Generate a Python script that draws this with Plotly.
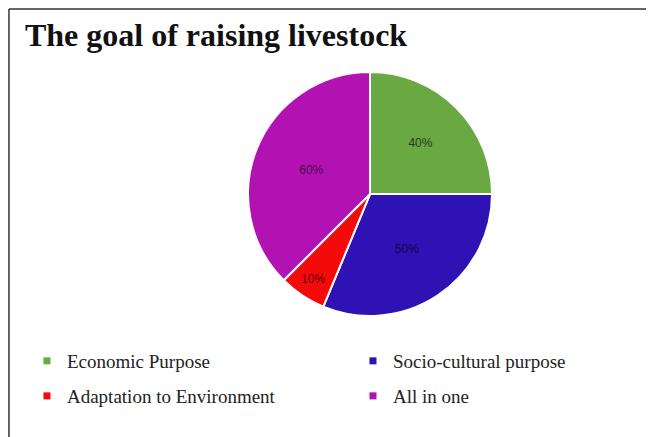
import plotly.graph_objects as go

categories = ["Economic Purpose", "Socio-cultural purpose", "Adaptation to Environment", "All in one"]
values = [40, 50, 10, 60]
labels_text = ["40%", "50%", "10%", "60%"]
colors = ["#6aa842", "#2e12b4", "#f50a0a", "#b312b3"]
text_colors = ["#1f3d12", "#120640", "#5a0000", "#4a064a"]

# legend entry placement (paper coords): two columns x two rows
legend_ids = ["legend", "legend2", "legend3", "legend4"]
legend_x = [0.029, 0.5275, 0.029, 0.5275]
legend_y = [0.1922, 0.1922, 0.1121, 0.1121]

fig = go.Figure(go.Pie(
    labels=categories,
    values=values,
    text=labels_text,
    textinfo="text",
    textposition="inside",
    insidetextorientation="horizontal",
    sort=False,
    direction="clockwise",
    rotation=0,
    marker=dict(colors=colors, line=dict(color="white", width=2)),
    textfont=dict(family="Liberation Sans, Arial", size=12, color=text_colors),
    domain=dict(x=[0.3670, 0.7401], y=[0.2952, 0.8535]),
    hoverinfo="label+value",
    showlegend=False,
))

for cat, col, lg in zip(categories, colors, legend_ids):
    fig.add_trace(go.Scatter(
        x=[None], y=[None], mode="markers", name=cat, legend=lg,
        marker=dict(symbol="square", size=7, color=col),
        showlegend=True, hoverinfo="skip",
    ))

legend_common = dict(
    orientation="h", xanchor="left", yanchor="middle",
    font=dict(family="Liberation Serif, Times New Roman", size=19, color="#222"),
    itemclick=False, itemdoubleclick=False, bgcolor="rgba(0,0,0,0)",
)
legend_layout = {lg: dict(x=lx, y=ly, **legend_common)
                 for lg, lx, ly in zip(legend_ids, legend_x, legend_y)}

fig.update_layout(
    width=654, height=437,
    margin=dict(l=0, r=0, t=0, b=0),
    paper_bgcolor="white",
    plot_bgcolor="white",
    xaxis=dict(visible=False),
    yaxis=dict(visible=False),
    title=dict(text="<b>The goal of raising livestock</b>",
               font=dict(family="Liberation Serif, Times New Roman", size=32, color="#111"),
               x=0.0259, xanchor="left", y=0.938, yanchor="middle"),
    shapes=[
        dict(type="line", xref="paper", yref="paper", x0=0.0015, x1=1.0, y0=0.9977, y1=0.9977,
             line=dict(color="#333", width=1.5)),
        dict(type="line", xref="paper", yref="paper", x0=0.0015, x1=0.0015, y0=0.0, y1=0.9977,
             line=dict(color="#333", width=1.5)),
    ],
    **legend_layout,
)

fig.write_html("out.html")
